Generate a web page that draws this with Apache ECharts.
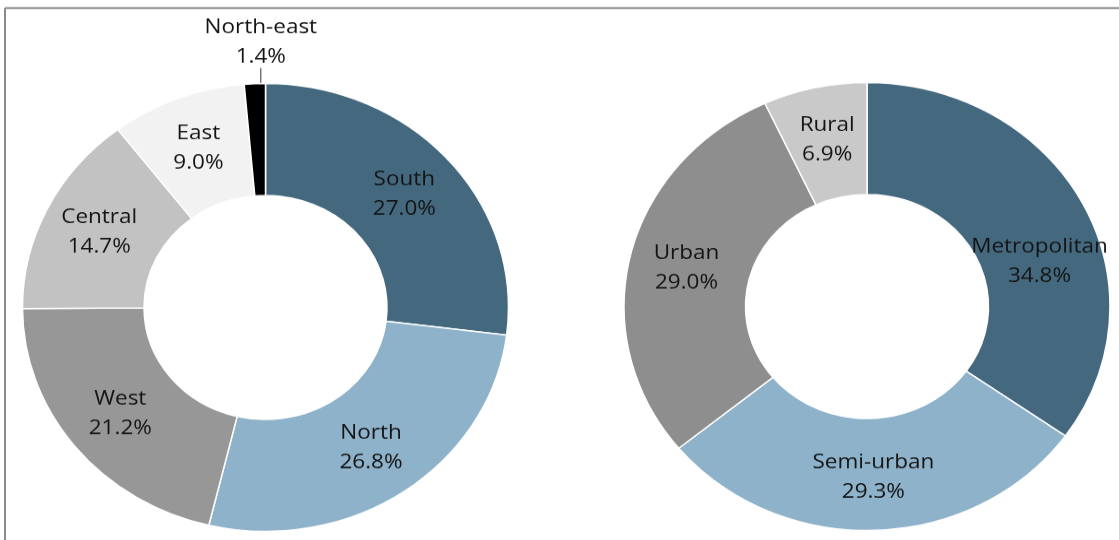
<!DOCTYPE html>
<html>
<head>
<meta charset="utf-8">
<script src="https://cdn.jsdelivr.net/npm/echarts@6/dist/echarts.min.js"></script>
<style>
  html, body { margin: 0; padding: 0; background: #fff; overflow: hidden; width: 1119px; height: 540px; }
  #chart { width: 1119px; height: 585.8px; transform: scaleY(0.9218); transform-origin: 0 0; }
</style>
</head>
<body>
<div id="chart"></div>
<script>
// Data
const regionNames = ['South', 'North', 'West', 'Central', 'East', 'North-east'];
const regionValues = [27.0, 26.8, 21.2, 14.7, 9.0, 1.4];
const regionColors = ['#44697f', '#8db2c9', '#979797', '#c2c2c2', '#f2f2f2', '#000000'];

const areaNames = ['Metropolitan', 'Semi-urban', 'Urban', 'Rural'];
const areaValues = [34.8, 29.3, 29.0, 6.9];
const areaColors = ['#44697f', '#8db2c9', '#8e8e8e', '#c9c9c9'];

const chart = echarts.init(document.getElementById('chart'), null, { renderer: 'canvas' });

const fmt = p => p.name + '\n' + p.value.toFixed(1) + '%';
const labelStyle = {
  show: true,
  position: 'inside',
  formatter: fmt,
  fontFamily: 'Open Sans',
  fontSize: 22.5,
  lineHeight: 32,
  color: '#141414'
};

function buildData(names, values, colors, extra) {
  return names.map((n, i) => Object.assign({
    name: n,
    value: values[i],
    itemStyle: { color: colors[i] }
  }, extra && extra[i] ? extra[i] : {}));
}

const regionExtra = {
  5: {
    label: { position: 'outside' },
    labelLine: { show: true, length: 17, length2: 0, lineStyle: { color: '#333', width: 1 } }
  }
};

const option = {
  backgroundColor: '#ffffff',
  animation: false,
  graphic: [
    { type: 'line', shape: { x1: 5, y1: 8.7, x2: 1119, y2: 8.7 }, style: { stroke: '#8a8a8a', lineWidth: 2 } },
    { type: 'line', shape: { x1: 5, y1: 8.7, x2: 5, y2: 586 }, style: { stroke: '#8a8a8a', lineWidth: 2 } }
  ],
  series: [
    {
      type: 'pie',
      center: [265.5, 333.5],
      radius: [121.5, 243],
      startAngle: 90,
      clockwise: true,
      avoidLabelOverlap: false,
      itemStyle: { borderColor: '#ffffff', borderWidth: 1.5 },
      label: labelStyle,
      labelLine: { show: false },
      labelLayout: function (p) {
        if (p.dataIndex === 5 && p.labelLinePoints) {
          const pts = p.labelLinePoints;
          const start = pts[0];
          const end = pts[pts.length - 1];
          const lx = start[0] + 6;
          return {
            x: lx,
            y: end[1] + 3.5,
            align: 'center',
            verticalAlign: 'bottom',
            labelLinePoints: [[lx, start[1] + 1], [lx, end[1]]]
          };
        }
      },
      data: buildData(regionNames, regionValues, regionColors, regionExtra)
    },
    {
      type: 'pie',
      center: [867, 332.5],
      radius: [121.5, 243],
      startAngle: 90,
      clockwise: true,
      avoidLabelOverlap: false,
      itemStyle: { borderColor: '#ffffff', borderWidth: 1.5 },
      label: labelStyle,
      labelLine: { show: false },
      labelLayout: function (p) {
        if (p.dataIndex === 0) {
          return { dx: 8, dy: 36 };
        }
      },
      data: buildData(areaNames, areaValues, areaColors)
    }
  ]
};

chart.setOption(option);
</script>
</body>
</html>
